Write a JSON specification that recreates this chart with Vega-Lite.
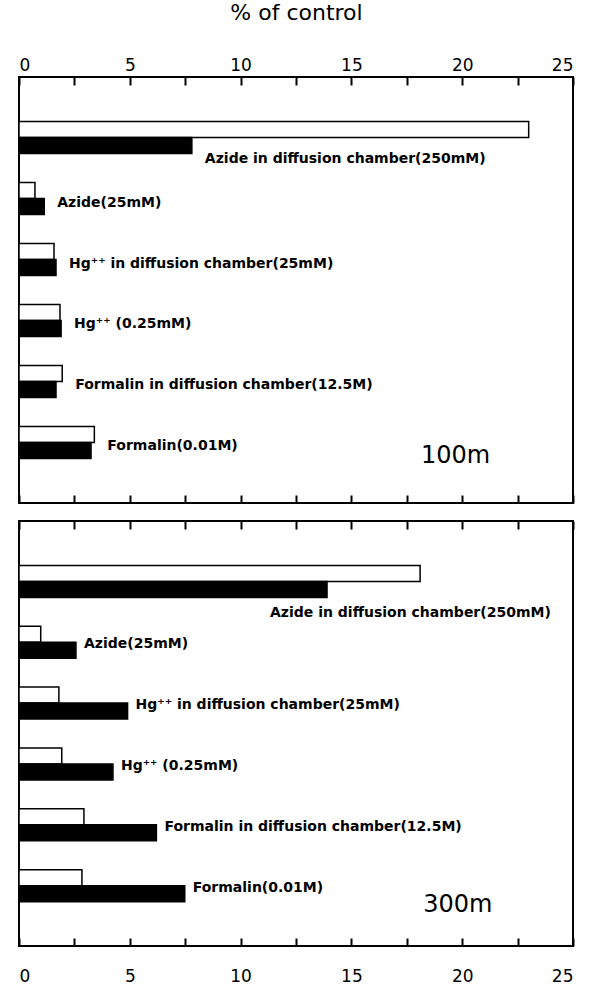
{
  "$schema": "https://vega.github.io/schema/vega-lite/v6.json",
  "padding": {"left": 17, "top": 0, "right": 4, "bottom": 0},
  "spacing": 14,
  "config": {
    "view": {"stroke": "black", "strokeWidth": 2},
    "font": "DejaVu Sans",
    "axis": {
      "grid": false,
      "domain": false,
      "ticks": true,
      "tickSize": -8,
      "tickWidth": 2,
      "tickColor": "black",
      "zindex": 2,
      "labelColor": "black",
      "labelFont": "DejaVu Sans",
      "labelFontSize": 17,
      "labelPadding": 11,
      "titleColor": "black",
      "titleFont": "DejaVu Sans",
      "titleFontWeight": "normal",
      "titleFontSize": 22
    }
  },
  "data": {
    "values": [
      {"depth": "100m", "treatment": "Azide in diffusion chamber(250mM)", "series": "open", "value": 23.0},
      {"depth": "100m", "treatment": "Azide in diffusion chamber(250mM)", "series": "solid", "value": 7.8},
      {"depth": "100m", "treatment": "Azide(25mM)", "series": "open", "value": 0.72},
      {"depth": "100m", "treatment": "Azide(25mM)", "series": "solid", "value": 1.14},
      {"depth": "100m", "treatment": "Hg⁺⁺ in diffusion chamber(25mM)", "series": "open", "value": 1.58},
      {"depth": "100m", "treatment": "Hg⁺⁺ in diffusion chamber(25mM)", "series": "solid", "value": 1.67},
      {"depth": "100m", "treatment": "Hg⁺⁺ (0.25mM)", "series": "open", "value": 1.85},
      {"depth": "100m", "treatment": "Hg⁺⁺ (0.25mM)", "series": "solid", "value": 1.9},
      {"depth": "100m", "treatment": "Formalin in diffusion chamber(12.5M)", "series": "open", "value": 1.95},
      {"depth": "100m", "treatment": "Formalin in diffusion chamber(12.5M)", "series": "solid", "value": 1.67},
      {"depth": "100m", "treatment": "Formalin(0.01M)", "series": "open", "value": 3.4},
      {"depth": "100m", "treatment": "Formalin(0.01M)", "series": "solid", "value": 3.25},
      {"depth": "300m", "treatment": "Azide in diffusion chamber(250mM)", "series": "open", "value": 18.1},
      {"depth": "300m", "treatment": "Azide in diffusion chamber(250mM)", "series": "solid", "value": 13.9},
      {"depth": "300m", "treatment": "Azide(25mM)", "series": "open", "value": 0.98},
      {"depth": "300m", "treatment": "Azide(25mM)", "series": "solid", "value": 2.57},
      {"depth": "300m", "treatment": "Hg⁺⁺ in diffusion chamber(25mM)", "series": "open", "value": 1.8},
      {"depth": "300m", "treatment": "Hg⁺⁺ in diffusion chamber(25mM)", "series": "solid", "value": 4.9},
      {"depth": "300m", "treatment": "Hg⁺⁺ (0.25mM)", "series": "open", "value": 1.93},
      {"depth": "300m", "treatment": "Hg⁺⁺ (0.25mM)", "series": "solid", "value": 4.24},
      {"depth": "300m", "treatment": "Formalin in diffusion chamber(12.5M)", "series": "open", "value": 2.93},
      {"depth": "300m", "treatment": "Formalin in diffusion chamber(12.5M)", "series": "solid", "value": 6.2},
      {"depth": "300m", "treatment": "Formalin(0.01M)", "series": "open", "value": 2.84},
      {"depth": "300m", "treatment": "Formalin(0.01M)", "series": "solid", "value": 7.48}
    ]
  },
  "vconcat": [
    {
      "width": 554,
      "height": 426,
      "transform": [{"filter": "datum.depth === '100m'"}],
      "layer": [
        {
          "mark": {"type": "bar", "stroke": "black", "strokeWidth": 1.5},
          "encoding": {
            "y": {"field": "treatment", "type": "nominal", "sort": ["Azide in diffusion chamber(250mM)", "Azide(25mM)", "Hg⁺⁺ in diffusion chamber(25mM)", "Hg⁺⁺ (0.25mM)", "Formalin in diffusion chamber(12.5M)", "Formalin(0.01M)"], "scale": {"paddingInner": 0.475, "paddingOuter": 0.73}, "axis": null},
            "yOffset": {"field": "series", "type": "nominal", "sort": ["open", "solid"], "scale": {"paddingInner": 0}},
            "x": {"field": "value", "type": "quantitative", "scale": {"domain": [0, 25], "nice": false, "zero": true},
              "axis": {"orient": "top", "values": [0, 2.5, 5, 7.5, 10, 12.5, 15, 17.5, 20, 22.5, 25], "labelExpr": "datum.value % 5 === 0 ? datum.label : ''", "title": "% of control", "titlePadding": 32}},
            "fill": {"field": "series", "type": "nominal", "scale": {"domain": ["open", "solid"], "range": ["white", "black"]}, "legend": null}
          }
        },
        {
          "transform": [
            {"filter": "datum.treatment !== 'Azide in diffusion chamber(250mM)'"},
            {"aggregate": [{"op": "max", "field": "value", "as": "maxv"}], "groupby": ["treatment"]}
          ],
          "mark": {"type": "text", "align": "left", "baseline": "middle", "dx": 13, "dy": 4, "fontWeight": "bold", "fontSize": 14, "color": "black"},
          "encoding": {
            "y": {"field": "treatment", "type": "nominal", "sort": ["Azide in diffusion chamber(250mM)", "Azide(25mM)", "Hg⁺⁺ in diffusion chamber(25mM)", "Hg⁺⁺ (0.25mM)", "Formalin in diffusion chamber(12.5M)", "Formalin(0.01M)"], "axis": null},
            "x": {"field": "maxv", "type": "quantitative",
              "axis": {"orient": "bottom", "values": [0, 2.5, 5, 7.5, 10, 12.5, 15, 17.5, 20, 22.5, 25], "labels": false, "title": null}},
            "text": {"field": "treatment"}
          }
        },
        {
          "transform": [
            {"filter": "datum.treatment === 'Azide in diffusion chamber(250mM)' && datum.series === 'solid'"}
          ],
          "mark": {"type": "text", "align": "left", "baseline": "middle", "dx": 13, "dy": 21, "fontWeight": "bold", "fontSize": 14, "color": "black"},
          "encoding": {
            "y": {"field": "treatment", "type": "nominal", "sort": ["Azide in diffusion chamber(250mM)", "Azide(25mM)", "Hg⁺⁺ in diffusion chamber(25mM)", "Hg⁺⁺ (0.25mM)", "Formalin in diffusion chamber(12.5M)", "Formalin(0.01M)"], "axis": null},
            "x": {"field": "value", "type": "quantitative", "axis": null},
            "text": {"field": "treatment"}
          }
        },
        {
          "transform": [{"aggregate": [{"op": "count", "as": "n"}], "groupby": ["depth"]}],
          "mark": {"type": "text", "align": "center", "baseline": "middle", "dy": 14, "fontSize": 24, "color": "black"},
          "encoding": {
            "y": {"datum": "Formalin(0.01M)", "type": "nominal", "axis": null},
            "x": {"datum": 19.7, "type": "quantitative", "axis": null},
            "text": {"field": "depth"}
          }
        }
      ],
      "resolve": {"axis": {"x": "independent"}}
    },
    {
      "width": 554,
      "height": 425,
      "transform": [{"filter": "datum.depth === '300m'"}],
      "layer": [
        {
          "mark": {"type": "bar", "stroke": "black", "strokeWidth": 1.5},
          "encoding": {
            "y": {"field": "treatment", "type": "nominal", "sort": ["Azide in diffusion chamber(250mM)", "Azide(25mM)", "Hg⁺⁺ in diffusion chamber(25mM)", "Hg⁺⁺ (0.25mM)", "Formalin in diffusion chamber(12.5M)", "Formalin(0.01M)"], "scale": {"paddingInner": 0.475, "paddingOuter": 0.73}, "axis": null},
            "yOffset": {"field": "series", "type": "nominal", "sort": ["open", "solid"], "scale": {"paddingInner": 0}},
            "x": {"field": "value", "type": "quantitative", "scale": {"domain": [0, 25], "nice": false, "zero": true},
              "axis": {"orient": "bottom", "values": [0, 2.5, 5, 7.5, 10, 12.5, 15, 17.5, 20, 22.5, 25], "labelExpr": "datum.value % 5 === 0 ? datum.label : ''", "title": null, "labelPadding": 30}},
            "fill": {"field": "series", "type": "nominal", "scale": {"domain": ["open", "solid"], "range": ["white", "black"]}, "legend": null}
          }
        },
        {
          "transform": [
            {"filter": "datum.treatment !== 'Azide in diffusion chamber(250mM)'"},
            {"aggregate": [{"op": "max", "field": "value", "as": "maxv"}], "groupby": ["treatment"]}
          ],
          "mark": {"type": "text", "align": "left", "baseline": "middle", "dx": 8, "dy": 2, "fontWeight": "bold", "fontSize": 14, "color": "black"},
          "encoding": {
            "y": {"field": "treatment", "type": "nominal", "sort": ["Azide in diffusion chamber(250mM)", "Azide(25mM)", "Hg⁺⁺ in diffusion chamber(25mM)", "Hg⁺⁺ (0.25mM)", "Formalin in diffusion chamber(12.5M)", "Formalin(0.01M)"], "axis": null},
            "x": {"field": "maxv", "type": "quantitative",
              "axis": {"orient": "top", "values": [0, 2.5, 5, 7.5, 10, 12.5, 15, 17.5, 20, 22.5, 25], "labels": false, "title": null}},
            "text": {"field": "treatment"}
          }
        },
        {
          "transform": [
            {"filter": "datum.treatment === 'Azide in diffusion chamber(250mM)' && datum.series === 'solid'"}
          ],
          "mark": {"type": "text", "align": "left", "baseline": "middle", "dx": -57, "dy": 32, "fontWeight": "bold", "fontSize": 14, "color": "black"},
          "encoding": {
            "y": {"field": "treatment", "type": "nominal", "sort": ["Azide in diffusion chamber(250mM)", "Azide(25mM)", "Hg⁺⁺ in diffusion chamber(25mM)", "Hg⁺⁺ (0.25mM)", "Formalin in diffusion chamber(12.5M)", "Formalin(0.01M)"], "axis": null},
            "x": {"field": "value", "type": "quantitative", "axis": null},
            "text": {"field": "treatment"}
          }
        },
        {
          "transform": [{"aggregate": [{"op": "count", "as": "n"}], "groupby": ["depth"]}],
          "mark": {"type": "text", "align": "center", "baseline": "middle", "dy": 19, "fontSize": 24, "color": "black"},
          "encoding": {
            "y": {"datum": "Formalin(0.01M)", "type": "nominal", "axis": null},
            "x": {"datum": 19.8, "type": "quantitative", "axis": null},
            "text": {"field": "depth"}
          }
        }
      ],
      "resolve": {"axis": {"x": "independent"}}
    }
  ]
}
